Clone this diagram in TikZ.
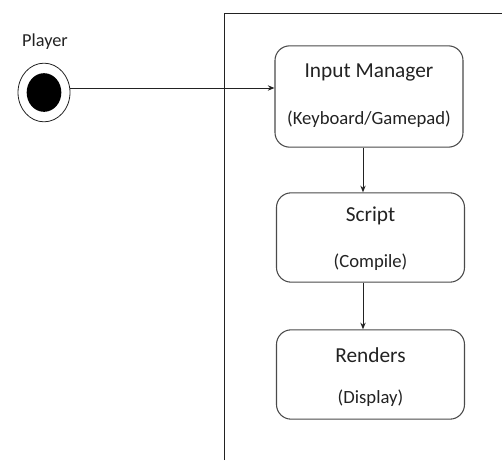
\documentclass[tikz,border=0pt]{standalone}
\usepackage{fontspec}
\setmainfont{Carlito}
\usetikzlibrary{shapes.geometric,arrows.meta}
\definecolor{ink}{HTML}{222222}
\definecolor{edge}{HTML}{4A4A4A}
\tikzset{
  stepbox/.style={draw=edge, line width=0.8pt, rounded corners=11pt, minimum width=141pt},
  title/.style={font=\fontsize{16}{18}\selectfont, text=ink, inner sep=0pt},
  sub/.style={font=\fontsize{14}{16}\selectfont, text=ink, inner sep=0pt},
  flow/.style={draw=ink, line width=0.75pt, -{Stealth[length=5pt,width=4pt]}},
  frame/.style={draw=ink, line width=0.75pt}
}
\begin{document}
\begin{tikzpicture}[x=0.75pt,y=-0.75pt]
\useasboundingbox (0,0) rectangle (502,460);

% swimlane frame
\coordinate (fbot) at (224,460);
\coordinate (ftop) at (224,14);
\coordinate (fright) at (502,14);
\draw[frame] (fbot) -- (ftop) -- (fright);

% start state
\node[draw=ink, line width=0.6pt, ellipse, minimum width=39pt, minimum height=44pt, inner sep=0pt] (start) at (44,92.5) {};
\node[fill=black, ellipse, minimum width=26pt, minimum height=29pt, inner sep=0pt] (dot) at (44,92.5) {};
\node[font=\fontsize{13.7}{16}\selectfont, text=ink, inner sep=0pt] (player) at (45,42) {Player};

% activity boxes
\node[stepbox, minimum height=76pt] (input) at (369,96.5) {};
\node[stepbox, minimum height=67pt] (script) at (370.5,237.5) {};
\node[stepbox, minimum height=67pt] (render) at (370.5,374.5) {};

\node[title] (t1) at (369,72) {Input Manager};
\node[sub] (s1) at (369,119) {(Keyboard/Gamepad)};
\node[title] (t2) at (370.5,216) {Script};
\node[sub] (s2) at (370.5,262) {(Compile)};
\node[title] (t3) at (370.5,355) {Renders};
\node[sub] (s3) at (370.5,398) {(Display)};

% connectors
\coordinate (row) at (0,88);
\coordinate (col) at (363,0);
\draw[flow] (start.east |- row) -- (input.west |- row);
\draw[flow] (input.south -| col) -- (script.north -| col);
\draw[flow] (script.south -| col) -- (render.north -| col);
\end{tikzpicture}
\end{document}
